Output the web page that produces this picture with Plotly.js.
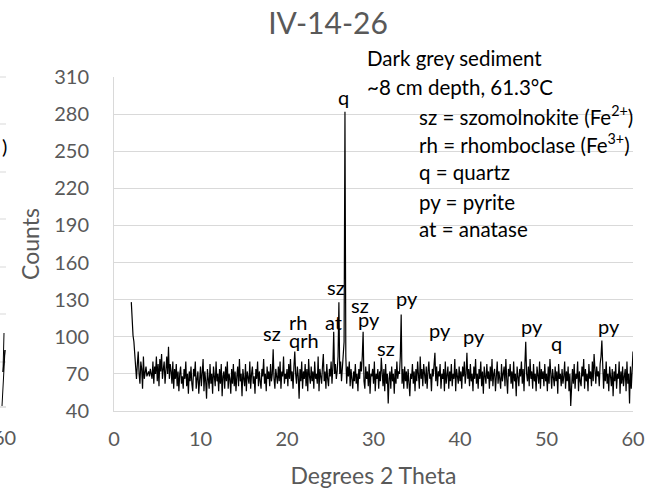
<!DOCTYPE html>
<html>
<head>
<meta charset="utf-8">
<script src="https://cdn.plot.ly/plotly-3.0.1.min.js"></script>
<style>html,body{margin:0;padding:0;background:#fff;}#chart{width:667px;height:497px;}</style>
</head>
<body>
<div id="chart"></div>
<script>
// XRD pattern IV-14-26 : counts sampled every 0.1 degree 2-theta, starting at 2.0
var startAngle = 2.0;
var stepAngle = 0.1;
var counts = [
  128,112,101,96,84,72,66,78,88,70,
  62,80,74,58,84,66,72,76,68,70,
  72,68,74,70,66,80,62,76,70,84,
  64,78,60,82,72,86,66,74,80,62,
  76,84,70,92,66,78,72,62,80,58,
  74,66,78,60,72,56,70,76,62,68,
  58,74,66,80,60,70,54,72,64,76,
  62,56,74,68,80,58,66,72,54,70,
  76,60,68,82,56,72,64,50,74,66,
  58,78,62,70,54,76,66,60,80,64,
  70,56,74,62,78,52,68,72,58,76,
  64,80,58,70,66,54,74,62,78,60,
  72,56,68,76,60,82,64,70,52,74,
  66,60,78,56,72,68,62,80,58,70,
  76,62,68,54,74,66,80,60,72,64,
  58,74,68,82,62,70,56,76,66,72,
  60,78,64,70,90,66,58,74,68,62,
  76,64,80,58,72,68,84,62,70,66,
  74,60,78,66,82,64,72,58,76,88,
  70,62,76,68,50,74,64,80,58,72,
  66,78,60,74,56,82,68,62,76,64,
  72,58,80,66,70,62,84,56,74,68,
  62,76,86,64,72,58,78,66,60,74,
  68,80,62,76,104,70,78,66,72,84,
  128,70,80,64,74,78,96,282,84,62,
  76,68,80,60,74,66,58,72,64,78,
  62,70,56,74,66,80,72,84,104,64,
  58,76,66,72,60,78,54,70,68,74,
  62,80,56,70,66,74,58,72,64,83,
  68,60,74,56,78,62,70,46,66,72,
  58,76,64,70,54,74,62,80,66,72,
  70,84,118,62,74,58,76,64,72,58,
  74,60,52,70,66,78,62,72,56,74,
  64,80,68,58,84,66,74,60,78,70,
  62,76,58,72,80,66,70,56,74,68,
  82,87,64,76,60,72,68,78,58,70,
  66,74,56,80,62,70,76,58,72,64,
  78,60,70,66,82,56,74,68,62,76,
  64,72,58,76,68,80,62,70,87,66,
  74,60,78,64,70,56,76,66,82,62,
  70,58,74,66,80,60,72,54,76,68,
  62,78,66,72,58,76,64,82,60,70,
  74,56,68,80,62,72,66,58,78,64,
  70,76,60,82,66,54,74,68,78,62,
  72,58,80,64,70,52,76,66,60,74,
  68,80,62,74,56,78,96,70,64,76,
  60,82,66,72,58,78,64,70,56,76,
  68,62,80,58,74,66,72,60,78,64,
  70,56,76,62,82,66,58,74,68,60,
  76,64,72,54,78,66,70,60,74,62,
  68,80,58,72,64,76,56,70,44,66,
  74,62,78,58,70,66,80,56,72,64,
  60,76,68,82,58,74,64,70,56,78,
  66,72,60,80,64,86,70,62,76,68,
  72,60,78,84,97,70,58,74,64,80,
  62,70,56,76,66,60,74,52,72,64,
  78,58,70,66,80,54,72,62,76,60,
  68,74,56,80,62,70,46,76,58,72,
  88
];

// Peak labels
var peakLabels = ["q","sz","at","sz","py","rh","qrh","sz","py","sz","py","py","py","q","py"];
var peakX      = [26.5, 25.7, 25.4, 28.4, 29.5, 21.3, 22.0, 18.3, 33.9, 31.4, 37.7, 41.6, 48.3, 51.2, 57.2];
var peakY      = [294, 140, 112, 126, 114, 112, 97, 103, 131, 91, 105.5, 100.6, 108.7, 95, 108.7];

// Sample description / key (pixel anchor of each line's left edge and middle)
var keyLines = ["Dark grey sediment", "~8 cm depth, 61.3°C",
  "sz = szomolnokite (Fe<sup>2+</sup>)", "rh = rhomboclase (Fe<sup>3+</sup>)",
  "q = quartz", "py = pyrite", "at = anatase"];
var keyPx = [365, 365, 417, 417, 417, 417, 417];
var keyPy = [58, 87, 115, 143, 172, 202, 229];

var chartTitle = "IV-14-26";
var xTitle = "Degrees 2 Theta";
var yTitle = "Counts";

var FONT = "Lato, 'Open Sans', sans-serif";
var GREY = "#595959";
var GRID = "#d9d9d9";

var W = 667, H = 497, L = 114, R = 34, T = 77, B = 86;
var pw = W - L - R, ph = H - T - B;
function px2x(p){ return (p - L) / pw; }
function px2y(p){ return (H - B - p) / ph; }

var annotations = [];
for (var i = 0; i < peakLabels.length; i++) {
  annotations.push({x: peakX[i], y: peakY[i], xref: "x", yref: "y", text: peakLabels[i],
    showarrow: false, xanchor: "center", yanchor: "middle",
    font: {family: FONT, size: 20, color: "#000"}});
}
for (var j = 0; j < keyLines.length; j++) {
  annotations.push({x: px2x(keyPx[j]), y: px2y(keyPy[j]), xref: "paper", yref: "paper", text: keyLines[j],
    showarrow: false, xanchor: "left", yanchor: "middle",
    font: {family: FONT, size: 20.5, color: "#000"}});
}
// fragment of the neighbouring chart at the left edge
annotations.push({x: px2x(4), y: px2y(146), xref: "paper", yref: "paper", text: ")",
  showarrow: false, xanchor: "center", yanchor: "middle", font: {family: FONT, size: 20, color: "#000"}});
annotations.push({x: px2x(18), y: px2y(437), xref: "paper", yref: "paper", text: "60",
  showarrow: false, xanchor: "right", yanchor: "middle", font: {family: FONT, size: 20, color: GREY}});

var shapes = [];
var stubYs = [77, 124, 172, 219, 267, 314, 362];
stubYs.forEach(function(py){
  shapes.push({type: "line", xref: "paper", yref: "paper", x0: px2x(0), x1: px2x(6),
    y0: px2y(py), y1: px2y(py), line: {color: GRID, width: 1}});
});
shapes.push({type: "line", xref: "paper", yref: "paper", x0: px2x(0), x1: px2x(6),
  y0: px2y(407), y1: px2y(407), line: {color: GRID, width: 1.5}});
shapes.push({type: "path", xref: "paper", yref: "paper",
  path: "M " + px2x(4) + "," + px2y(333) + " L " + px2x(3) + "," + px2y(372) + " L " + px2x(5) + "," + px2y(350) +
        " L " + px2x(2) + "," + px2y(406),
  line: {color: "#000", width: 1}});

var trace = {
  type: "scatter", mode: "lines",
  x0: startAngle, dx: stepAngle, y: counts,
  line: {color: "#000", width: 1.2},
  hoverinfo: "skip", showlegend: false
};

var layout = {
  width: W, height: H,
  margin: {l: L, r: R, t: T, b: B, pad: 0},
  paper_bgcolor: "#fff", plot_bgcolor: "#fff",
  showlegend: false,
  font: {family: FONT, color: GREY},
  title: {text: chartTitle, font: {family: FONT, size: 30, color: GREY},
    xref: "paper", x: px2x(328), xanchor: "center",
    yref: "container", y: 1 - 23 / H, yanchor: "middle"},
  xaxis: {range: [0, 60], tick0: 0, dtick: 10, showgrid: false, zeroline: false,
    showline: true, linecolor: GRID, linewidth: 1, ticks: "",
    tickfont: {family: FONT, size: 20, color: GREY}, ticklabelstandoff: 10,
    title: {text: xTitle, font: {family: FONT, size: 23, color: GREY}, standoff: 18}},
  yaxis: {range: [40, 310], tick0: 40, dtick: 30, showgrid: true, gridcolor: GRID, gridwidth: 1,
    zeroline: false, showline: true, linecolor: GRID, linewidth: 1, ticks: "",
    tickfont: {family: FONT, size: 20, color: GREY}, ticklabelstandoff: 20,
    title: {text: yTitle, font: {family: FONT, size: 23, color: GREY}, standoff: 8}},
  annotations: annotations,
  shapes: shapes
};

Plotly.newPlot("chart", [trace], layout, {staticPlot: true, displayModeBar: false});
</script>
</body>
</html>
